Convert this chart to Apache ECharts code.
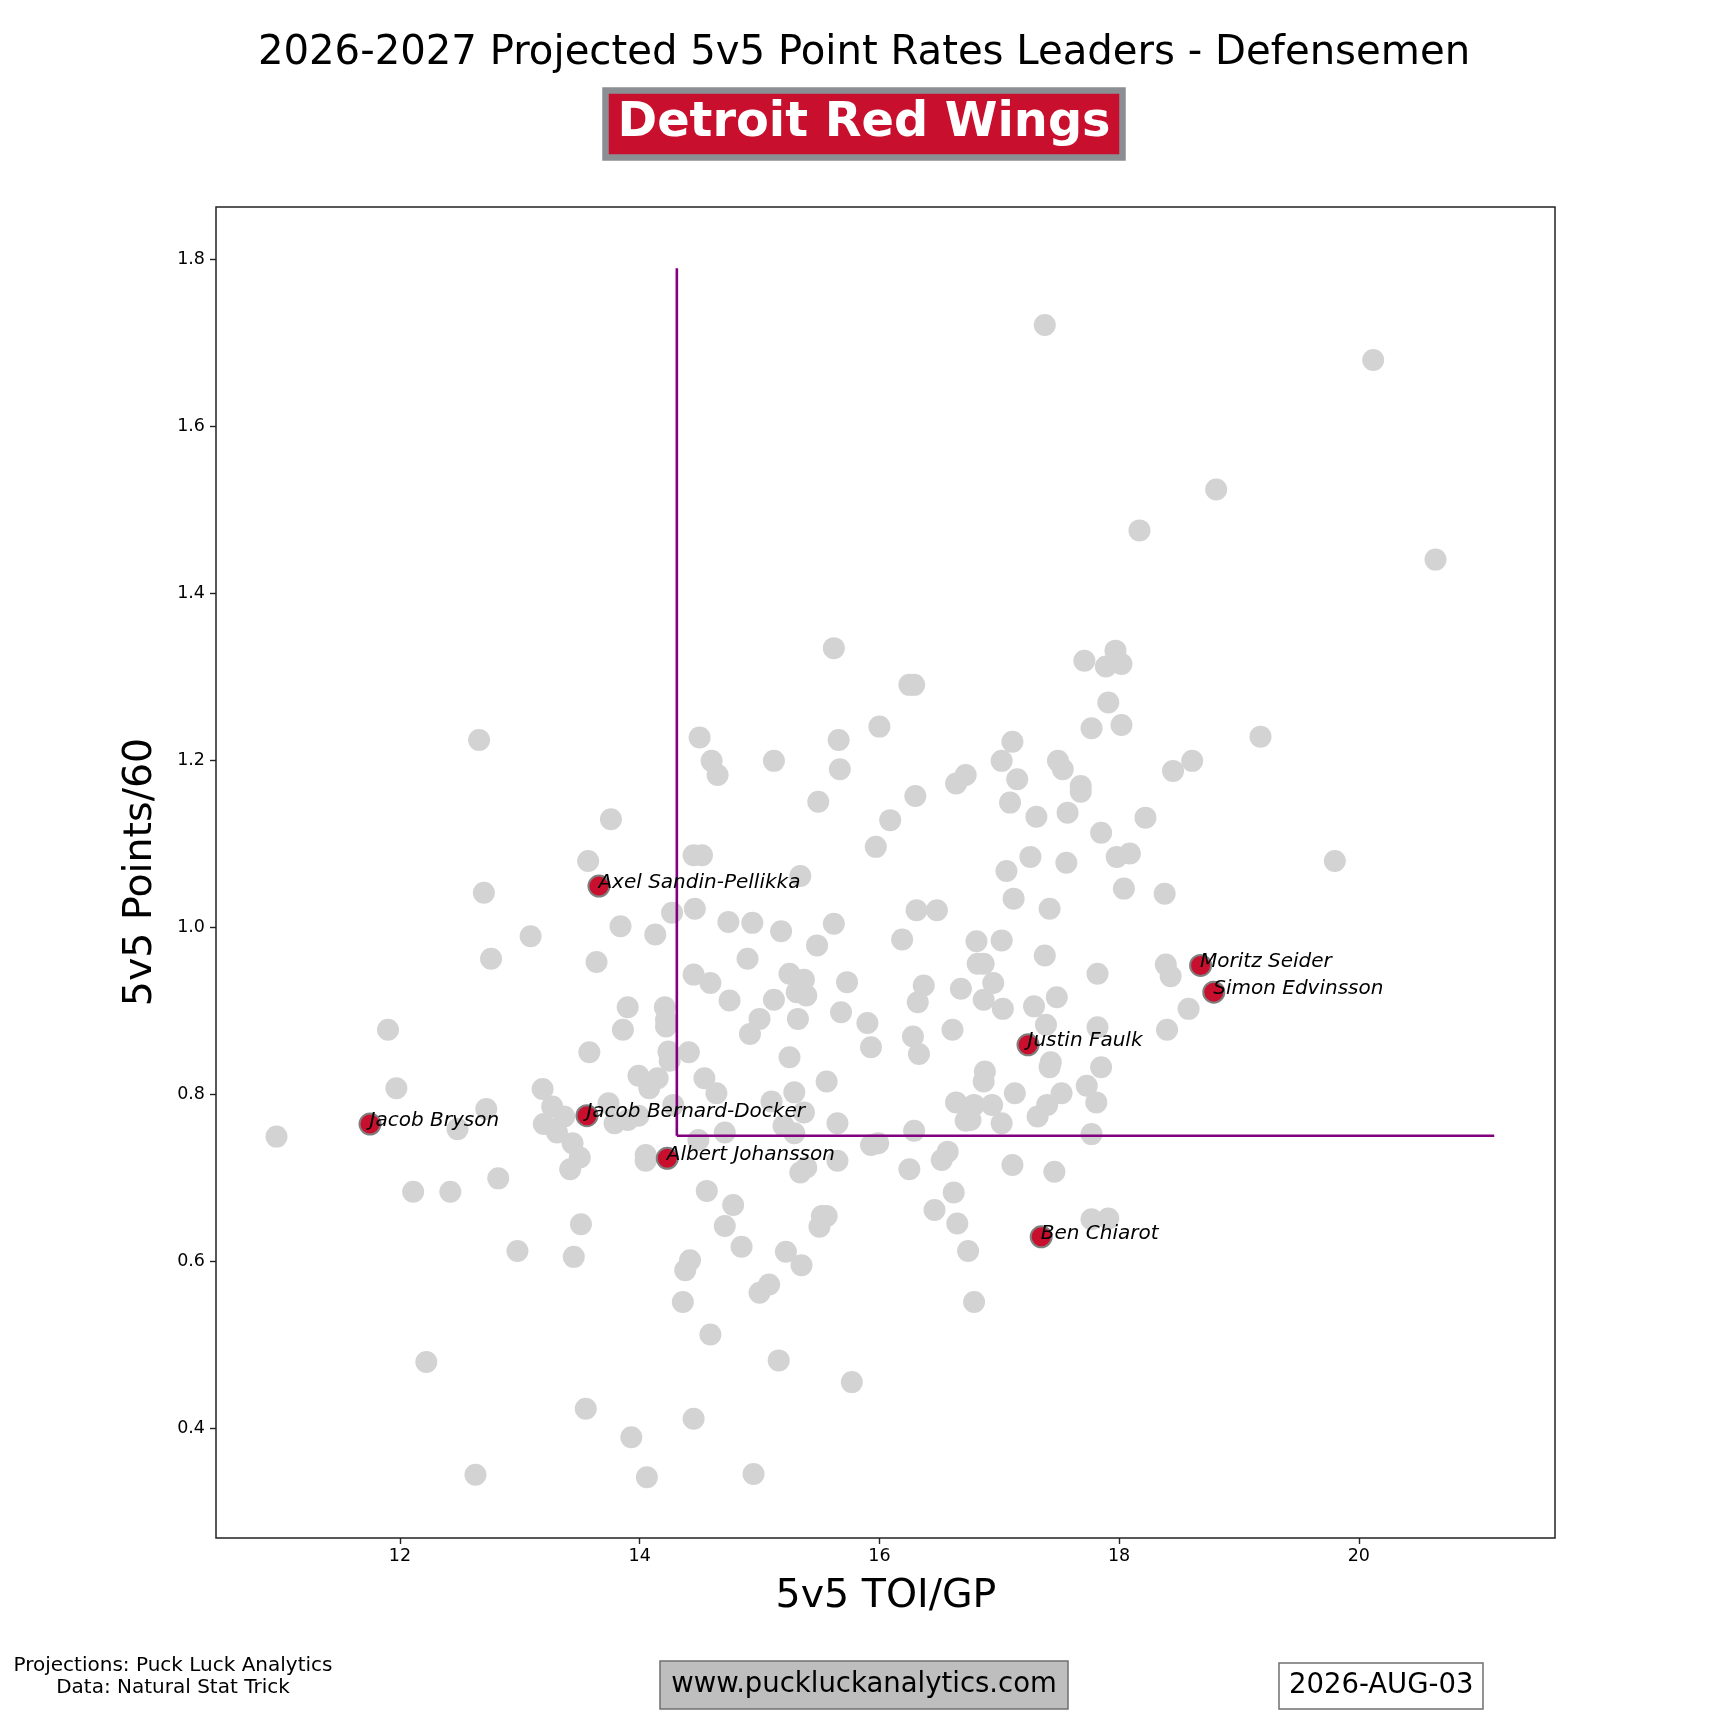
<!DOCTYPE html>
<html>
<head>
<meta charset="utf-8">
<script src="https://cdn.jsdelivr.net/npm/echarts@6/dist/echarts.min.js"></script>
<style>
  html, body { margin: 0; padding: 0; background: #fff; }
  #chart-container { width: 1728px; height: 1728px; }
</style>
</head>
<body>
<div id="chart-container"></div>
<script>
var dom = document.getElementById('chart-container');
var myChart = echarts.init(dom, null, { renderer: 'canvas' });

// league defensemen [5v5 TOI/GP, 5v5 Points/60]
var leagueD = [
  [17.38,1.721],[20.12,1.679],[18.81,1.524],[18.17,1.475],[20.64,1.440],
  [15.62,1.334],[17.97,1.331],[17.71,1.319],[18.02,1.315],[17.89,1.312],
  [16.25,1.290],[16.29,1.290],[17.91,1.269],[12.66,1.224],[14.50,1.227],
  [15.66,1.224],[16.00,1.240],[17.11,1.222],[17.77,1.238],[18.02,1.242],
  [19.18,1.228],[14.60,1.199],[15.12,1.199],[15.67,1.189],[14.65,1.182],
  [16.72,1.182],[16.64,1.172],[17.02,1.199],[17.15,1.177],[17.49,1.199],
  [17.53,1.189],[17.68,1.169],[17.68,1.162],[18.61,1.199],[18.45,1.187],
  [15.49,1.150],[16.30,1.157],[17.09,1.149],[17.31,1.132],[17.57,1.137],
  [18.22,1.131],[13.76,1.129],[16.09,1.128],[17.85,1.113],[15.97,1.096],
  [17.26,1.084],[17.98,1.084],[18.09,1.088],[17.56,1.077],[19.80,1.079],
  [13.57,1.079],[14.45,1.086],[14.52,1.086],[17.06,1.067],[15.34,1.061],
  [12.70,1.041],[18.38,1.040],[18.04,1.046],[17.12,1.034],
  [14.27,1.017],[14.46,1.022],[16.31,1.020],[16.48,1.020],[17.42,1.022],
  [13.84,1.001],[14.74,1.006],[14.94,1.005],[15.62,1.004],[14.13,0.991],
  [15.18,0.995],[13.09,0.989],[16.19,0.985],[16.81,0.983],[17.02,0.984],
  [15.48,0.978],[12.76,0.962],[13.64,0.958],[14.90,0.962],[17.38,0.966],
  [16.82,0.956],[16.87,0.956],[18.39,0.955],[18.43,0.941],[14.45,0.943],
  [15.25,0.944],[17.82,0.944],[14.59,0.933],[15.37,0.937],[15.73,0.934],
  [16.37,0.930],[16.95,0.933],[15.31,0.922],[15.39,0.918],[16.68,0.926],
  [14.75,0.912],[15.12,0.913],[16.32,0.910],[16.87,0.913],[17.48,0.916],
  [18.58,0.902],[13.90,0.904],[14.21,0.904],[17.03,0.902],[17.29,0.905],
  [15.68,0.898],[15.00,0.890],[15.32,0.890],[14.22,0.889],[15.90,0.885],
  [14.22,0.881],[17.39,0.883],[17.82,0.880],[11.90,0.877],[13.86,0.877],
  [16.61,0.877],[18.40,0.877],[14.92,0.872],[16.28,0.869],[15.93,0.856],
  [14.24,0.851],[13.58,0.850],[14.41,0.850],[15.25,0.844],[16.33,0.848],
  [14.25,0.840],[17.43,0.838],[17.42,0.832],[17.85,0.832],[16.88,0.827],
  [13.99,0.822],[14.15,0.819],[14.54,0.819],[15.56,0.815],[16.87,0.815],
  [11.97,0.807],[14.08,0.807],[17.73,0.810],[13.19,0.806],[14.64,0.801],
  [15.29,0.802],[17.13,0.801],[17.52,0.801],[16.64,0.790],[16.79,0.787],
  [16.94,0.787],[17.81,0.790],[12.72,0.782],[13.27,0.785],[13.74,0.789],
  [14.28,0.787],[15.10,0.791],[17.40,0.787],[15.37,0.778],[13.37,0.773],
  [17.32,0.773],[13.90,0.769],[13.79,0.765],[13.99,0.774],[15.65,0.765],
  [16.72,0.768],[16.76,0.769],[17.02,0.765],[15.20,0.762],[13.20,0.764],
  [12.48,0.758],[13.31,0.754],[15.29,0.753],[14.71,0.754],[16.29,0.756],
  [17.77,0.752],[10.97,0.749],[13.44,0.741],[14.49,0.745],[15.99,0.741],
  [15.93,0.739],[16.57,0.731],[13.50,0.724],[14.05,0.727],[16.52,0.721],
  [14.05,0.720],[15.65,0.720],[17.11,0.715],[13.42,0.710],[15.34,0.706],
  [15.39,0.712],[16.25,0.710],[17.46,0.707],[12.82,0.699],[12.11,0.683],
  [12.42,0.683],[14.56,0.684],[16.62,0.682],[14.78,0.667],[16.46,0.661],
  [15.52,0.654],[15.56,0.654],[17.77,0.650],[17.91,0.651],[13.51,0.644],
  [14.71,0.642],[16.65,0.645],[15.50,0.641],[14.85,0.617],[16.74,0.612],
  [12.98,0.612],[15.22,0.611],[13.45,0.605],[14.42,0.601],[15.35,0.595],
  [14.38,0.589],[15.08,0.572],[15.00,0.562],[14.36,0.551],[16.79,0.551],
  [14.59,0.512],[15.16,0.481],[12.22,0.479],[15.77,0.455],[13.55,0.423],
  [14.45,0.411],[13.93,0.389],[12.63,0.344],[14.95,0.345],[14.06,0.341]
];

// Red Wings defensemen
var teamNames = ['Axel Sandin-Pellikka', 'Moritz Seider', 'Simon Edvinsson', 'Justin Faulk',
                 'Jacob Bernard-Docker', 'Jacob Bryson', 'Albert Johansson', 'Ben Chiarot'];
var teamTOI = [13.66, 18.68, 18.79, 17.24, 13.56, 11.75, 14.23, 17.35];
var teamPts = [1.049, 0.954, 0.922, 0.859, 0.774, 0.764, 0.723, 0.629];

// reference lines
var refTOI = 14.31;
var refPts = 0.75;
var refTopPts = 1.789;
var refEndTOI = 21.13;

var xTicks = [12, 14, 16, 18, 20];
var yTicks = [0.4, 0.6, 0.8, 1.0, 1.2, 1.4, 1.6, 1.8];

var FONT = 'DejaVu Sans';

var teamData = teamNames.map(function (n, i) {
  return { name: n, value: [teamTOI[i], teamPts[i]] };
});

var option = {
  backgroundColor: '#fff',
  animation: false,
  textStyle: { fontFamily: FONT },
  title: [
    {
      text: '2026-2027 Projected 5v5 Point Rates Leaders - Defensemen',
      left: 'center',
      top: 34,
      padding: 0,
      textStyle: { fontFamily: FONT, fontSize: 40.2, fontWeight: 'normal', color: '#000', lineHeight: 40 }
    },
    {
      text: 'Detroit Red Wings',
      left: 'center',
      top: 91,
      padding: [9, 12, 10, 12],
      backgroundColor: '#C8102E',
      borderColor: '#8B8E92',
      borderWidth: 6.5,
      textStyle: { fontFamily: FONT, fontSize: 47.8, fontWeight: 'bold', color: '#fff', lineHeight: 47 }
    },
    {
      text: 'www.puckluckanalytics.com',
      left: 'center',
      top: 1661,
      padding: [10, 11],
      backgroundColor: '#BEBEBE',
      borderColor: '#707070',
      borderWidth: 1.5,
      textStyle: { fontFamily: FONT, fontSize: 27.5, fontWeight: 'normal', color: '#000', lineHeight: 28 }
    },
    {
      text: '2026-AUG-03',
      left: 1279,
      top: 1663,
      padding: [9, 10],
      backgroundColor: '#fff',
      borderColor: '#707070',
      borderWidth: 1.5,
      textStyle: { fontFamily: FONT, fontSize: 27.5, fontWeight: 'normal', color: '#000', lineHeight: 28 }
    }
  ],
  graphic: [
    {
      type: 'text', x: 886, y: 1597,
      style: { text: '5v5 TOI/GP', font: '39.5px "DejaVu Sans"', fill: '#000', align: 'center', verticalAlign: 'middle' }
    },
    {
      type: 'text', x: 141, y: 872, rotation: Math.PI / 2,
      style: { text: '5v5 Points/60', font: '39.5px "DejaVu Sans"', fill: '#000', align: 'center', verticalAlign: 'middle' }
    },
    {
      type: 'text', x: 173, y: 1677,
      style: {
        text: 'Projections: Puck Luck Analytics\nData: Natural Stat Trick',
        font: '20px "DejaVu Sans"', lineHeight: 22, fill: '#000', align: 'center', verticalAlign: 'middle'
      }
    }
  ],
  grid: {
    left: 216, right: 173, top: 207, bottom: 190,
    show: true, borderColor: '#222', borderWidth: 1.5, backgroundColor: '#fff'
  },
  xAxis: {
    type: 'value',
    min: 10.465, max: 21.637,
    splitLine: { show: false },
    axisLine: { show: false },
    axisTick: { show: true, customValues: xTicks, length: 6, lineStyle: { color: '#222', width: 1.4 } },
    axisLabel: { customValues: xTicks, fontSize: 17.5, color: '#000', margin: 9, fontFamily: FONT }
  },
  yAxis: {
    type: 'value',
    min: 0.2683, max: 1.8623,
    splitLine: { show: false },
    axisLine: { show: false },
    axisTick: { show: true, customValues: yTicks, length: 6, lineStyle: { color: '#222', width: 1.4 } },
    axisLabel: {
      customValues: yTicks, fontSize: 17.5, color: '#000', margin: 11, fontFamily: FONT,
      formatter: function (v) { return v.toFixed(1); }
    }
  },
  series: [
    {
      type: 'scatter',
      data: leagueD,
      symbolSize: 22,
      itemStyle: { color: '#D3D3D3', opacity: 1 },
      z: 2
    },
    {
      type: 'line',
      data: [[refTOI, refPts], [refTOI, refTopPts]],
      symbol: 'none',
      lineStyle: { color: '#800080', width: 2.6 },
      z: 3
    },
    {
      type: 'line',
      data: [[refTOI, refPts], [refEndTOI, refPts]],
      symbol: 'none',
      lineStyle: { color: '#800080', width: 2.6 },
      z: 3
    },
    {
      type: 'scatter',
      data: teamData,
      symbolSize: 21,
      itemStyle: { color: '#C8102E', borderColor: '#7F7F7F', borderWidth: 2, opacity: 1 },
      label: {
        show: true,
        formatter: '{b}',
        position: [11, 8],
        align: 'left',
        verticalAlign: 'middle',
        fontFamily: FONT,
        fontStyle: 'italic',
        fontSize: 20,
        color: '#000'
      },
      z: 4
    }
  ]
};

myChart.setOption(option);
window.addEventListener('resize', myChart.resize);
</script>
</body>
</html>
